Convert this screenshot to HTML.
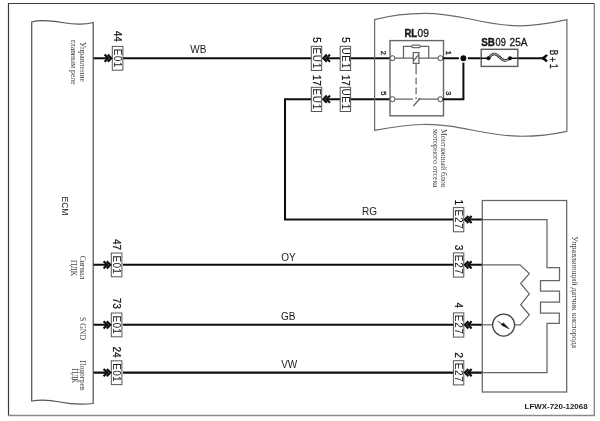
<!DOCTYPE html>
<html>
<head>
<meta charset="utf-8">
<style>
html,body{margin:0;padding:0;background:#fff;}
body{width:600px;height:421px;overflow:hidden;}
svg{display:block;will-change:transform;}
text{font-family:"Liberation Sans",sans-serif;fill:#1a1a1a;}
.ser{font-family:"Liberation Serif",serif;fill:#444;}
.num{fill:#111;stroke:#111;stroke-width:0.2;}
.sb{stroke:#1a1a1a;stroke-width:0.3;}
.w{stroke:#111;stroke-width:2.05;fill:none;stroke-linejoin:miter;}
.t{stroke:#666;stroke-width:1.25;fill:none;}
.bx{stroke:#555;stroke-width:1;fill:#fff;}
.ch{stroke:#111;stroke-width:2.1;fill:none;stroke-linejoin:miter;}
</style>
</head>
<body>
<svg width="600" height="421" viewBox="0 0 600 421">
<defs><filter id="bl" x="0" y="0" width="600" height="421" filterUnits="userSpaceOnUse"><feGaussianBlur stdDeviation="0.4"/></filter></defs>
<rect width="600" height="421" fill="#fff"/>
<g filter="url(#bl)">
<!-- outer frame -->
<path d="M8.5 415.5 V3.5 H594.5" stroke="#3a3a3a" stroke-width="1.2" fill="none"/>
<path d="M594.3 3.5 V415.5 H8.5" stroke="#8a8a8a" stroke-width="1.4" fill="none"/>

<!-- ECM box -->
<path class="t" style="stroke:#555" d="M31.7 401 V22 C40 19.5 50 20.5 62 22.5 C74 24.5 84 25 93.2 22.5 V403.5 C84 404.5 72 404.5 60 402 C50 400 40 399.5 31.7 401 Z"/>
<text transform="translate(61.5 206) rotate(90)" text-anchor="middle" font-size="8.5">ECM</text>

<!-- left labels -->
<g font-size="8">
<text class="ser" transform="translate(80.3 42.1) rotate(90)" textLength="39.9" lengthAdjust="spacingAndGlyphs">Управление</text>
<text class="ser" transform="translate(71 40) rotate(90)" textLength="44.8" lengthAdjust="spacingAndGlyphs">главным реле</text>
<text class="ser" transform="translate(80.2 255.7) rotate(90)" textLength="23.5" lengthAdjust="spacingAndGlyphs">Сигнал</text>
<text class="ser" transform="translate(71.3 260) rotate(90)" textLength="16" lengthAdjust="spacingAndGlyphs">ПДК</text>
<text class="ser" transform="translate(80.4 316.9) rotate(90)" textLength="23.2" lengthAdjust="spacingAndGlyphs">S GND</text>
<text class="ser" transform="translate(80.3 360.2) rotate(90)" textLength="30.4" lengthAdjust="spacingAndGlyphs">Подогрев</text>
<text class="ser" transform="translate(71.5 368.2) rotate(90)" textLength="15" lengthAdjust="spacingAndGlyphs">ПДК</text>
</g>

<!-- wires -->
<path class="w" d="M93.5 58.2 H108 M123 58.2 H311.5 M326 58.2 H340 M350.5 58.2 H390"/>
<path class="w" d="M326 99.2 H340 M350.5 99.2 H390"/>
<path class="w" d="M311.5 99.2 H285 V219.5 H453.5 M469 219.5 H482.5"/>
<path class="w" d="M93.5 264.8 H108 M123 264.8 H453.5 M469 264.8 H482.5"/>
<path class="w" d="M93.5 324.8 H108 M123 324.8 H453.5 M469 324.8 H482.5"/>
<path class="w" d="M93.5 372.6 H108 M123 372.6 H453.5 M469 372.6 H482.5"/>

<!-- wire labels -->
<g font-size="10">
<text x="198.3" y="53" text-anchor="middle">WB</text>
<text x="369.5" y="214.7" text-anchor="middle">RG</text>
<text x="288.5" y="260.8" text-anchor="middle">OY</text>
<text x="288.3" y="319.6" text-anchor="middle">GB</text>
<text x="289.2" y="367.8" text-anchor="middle">VW</text>
</g>

<g transform="translate(0 58.2)">
<rect class="bx" x="112.3" y="-11.8" width="10.6" height="23.8"/>
<text transform="translate(113.9 0) rotate(90)" text-anchor="middle" font-size="10" letter-spacing="0.3">E01</text>
<text transform="translate(113.9 -21.9) rotate(90)" text-anchor="middle" font-size="10" class="num">44</text>
<path class="ch" d="M104.6 -3.6 L108.1 0 L104.6 3.6 M107.8 -3.6 L111.3 0 L107.8 3.6"/>
</g>
<g transform="translate(-1.0 264.8)">
<rect class="bx" x="112.3" y="-11.8" width="10.6" height="23.8"/>
<text transform="translate(113.9 0) rotate(90)" text-anchor="middle" font-size="10" letter-spacing="0.3">E01</text>
<text transform="translate(113.9 -20.3) rotate(90)" text-anchor="middle" font-size="10" class="num">47</text>
<path class="ch" d="M104.6 -3.6 L108.1 0 L104.6 3.6 M107.8 -3.6 L111.3 0 L107.8 3.6"/>
</g>
<g transform="translate(-1.0 324.8)">
<rect class="bx" x="112.3" y="-11.8" width="10.6" height="23.8"/>
<text transform="translate(113.9 0) rotate(90)" text-anchor="middle" font-size="10" letter-spacing="0.3">E01</text>
<text transform="translate(113.9 -21.5) rotate(90)" text-anchor="middle" font-size="10" class="num">73</text>
<path class="ch" d="M104.6 -3.6 L108.1 0 L104.6 3.6 M107.8 -3.6 L111.3 0 L107.8 3.6"/>
</g>
<g transform="translate(-1.0 372.6)">
<rect class="bx" x="112.3" y="-11.8" width="10.6" height="23.8"/>
<text transform="translate(113.9 0) rotate(90)" text-anchor="middle" font-size="10" letter-spacing="0.3">E01</text>
<text transform="translate(113.9 -20.5) rotate(90)" text-anchor="middle" font-size="10" class="num">24</text>
<path class="ch" d="M104.6 -3.6 L108.1 0 L104.6 3.6 M107.8 -3.6 L111.3 0 L107.8 3.6"/>
</g>
<g transform="translate(0 58.2)">
<rect class="bx" x="311.3" y="-11.9" width="10.4" height="24.2"/>
<text transform="translate(312.90000000000003 0) rotate(90)" text-anchor="middle" font-size="10" letter-spacing="0.7">EU1</text>
<text transform="translate(312.90000000000003 -18.2) rotate(90)" text-anchor="middle" font-size="10" class="num">5</text>
</g>
<g transform="translate(0 58.2)">
<rect class="bx" x="340.2" y="-11.9" width="10.4" height="24.2"/>
<text transform="translate(341.8 0) rotate(90)" text-anchor="middle" font-size="10" letter-spacing="0.7">UE1</text>
<text transform="translate(341.8 -18.2) rotate(90)" text-anchor="middle" font-size="10" class="num">5</text>
</g>
<g transform="translate(0 99.2)">
<rect class="bx" x="311.3" y="-11.9" width="10.4" height="24.2"/>
<text transform="translate(312.90000000000003 0) rotate(90)" text-anchor="middle" font-size="10" letter-spacing="0.7">EU1</text>
<text transform="translate(312.90000000000003 -19) rotate(90)" text-anchor="middle" font-size="10" class="num">17</text>
</g>
<g transform="translate(0 99.2)">
<rect class="bx" x="340.2" y="-11.9" width="10.4" height="24.2"/>
<text transform="translate(341.8 0) rotate(90)" text-anchor="middle" font-size="10" letter-spacing="0.7">UE1</text>
<text transform="translate(341.8 -19) rotate(90)" text-anchor="middle" font-size="10" class="num">17</text>
</g>
<path class="ch" transform="translate(322.6 58.2)" d="M4.2 -3.6 L0.7 0 L4.2 3.6 M7.4 -3.6 L3.9 0 L7.4 3.6"/>
<path class="ch" transform="translate(322.6 99.2)" d="M4.2 -3.6 L0.7 0 L4.2 3.6 M7.4 -3.6 L3.9 0 L7.4 3.6"/>
<g transform="translate(0 219.5)">
<rect class="bx" x="453.4" y="-11.9" width="10.4" height="24.2"/>
<text transform="translate(455.0 0) rotate(90)" text-anchor="middle" font-size="10" letter-spacing="0.7">E27</text>
<text transform="translate(455.0 -17.3) rotate(90)" text-anchor="middle" font-size="10" class="num">1</text>
</g>
<path class="ch" transform="translate(464.2 219.5)" d="M4.2 -3.6 L0.7 0 L4.2 3.6 M7.4 -3.6 L3.9 0 L7.4 3.6"/>
<g transform="translate(0 264.8)">
<rect class="bx" x="453.4" y="-11.9" width="10.4" height="24.2"/>
<text transform="translate(455.0 0) rotate(90)" text-anchor="middle" font-size="10" letter-spacing="0.7">E27</text>
<text transform="translate(455.0 -17.3) rotate(90)" text-anchor="middle" font-size="10" class="num">3</text>
</g>
<path class="ch" transform="translate(464.2 264.8)" d="M4.2 -3.6 L0.7 0 L4.2 3.6 M7.4 -3.6 L3.9 0 L7.4 3.6"/>
<g transform="translate(0 324.8)">
<rect class="bx" x="453.4" y="-11.9" width="10.4" height="24.2"/>
<text transform="translate(455.0 0) rotate(90)" text-anchor="middle" font-size="10" letter-spacing="0.7">E27</text>
<text transform="translate(455.0 -19.4) rotate(90)" text-anchor="middle" font-size="10" class="num">4</text>
</g>
<path class="ch" transform="translate(464.2 324.8)" d="M4.2 -3.6 L0.7 0 L4.2 3.6 M7.4 -3.6 L3.9 0 L7.4 3.6"/>
<g transform="translate(0 372.6)">
<rect class="bx" x="453.4" y="-11.9" width="10.4" height="24.2"/>
<text transform="translate(455.0 0) rotate(90)" text-anchor="middle" font-size="10" letter-spacing="0.7">E27</text>
<text transform="translate(455.0 -17.5) rotate(90)" text-anchor="middle" font-size="10" class="num">2</text>
</g>
<path class="ch" transform="translate(464.2 372.6)" d="M4.2 -3.6 L0.7 0 L4.2 3.6 M7.4 -3.6 L3.9 0 L7.4 3.6"/>
<!-- relay block -->
<path class="t" style="stroke:#6a6a6a;stroke-width:1.2" d="M374.6 130.3 V19.7 C390 15.5 408 13.3 425 13.3 C442 13.3 456 16 470 19 C488 23 503 25.8 520 25.8 C537 25.8 552 23 566.9 19.7 V131.3 C550 135 535 136.5 518 136.2 C495 136 470 129 450 126.2 C440 124.8 430 124.3 422 124.5 C405 125 390 127.5 374.6 130.3 Z"/>
<rect class="t" x="390" y="40.6" width="53.5" height="75.2" style="stroke-width:1.4"/>
<text x="404.4" y="36.9" font-size="10" font-weight="bold" textLength="12.8" lengthAdjust="spacingAndGlyphs" style="stroke:#1a1a1a;stroke-width:0.4">RL</text><text x="417.6" y="36.9" font-size="10" class="sb" textLength="11.3" lengthAdjust="spacingAndGlyphs">09</text>
<!-- coil -->
<path class="t" d="M395 58.2 H438 M403.5 58.2 V46.4 H428.7 V58.2"/>
<rect class="t" x="411.8" y="45.1" width="8.4" height="2.6" rx="1.3" style="fill:#fff"/>
<rect class="t" x="413.3" y="52.6" width="5.6" height="10.8" style="fill:#fff"/>
<path class="t" d="M418.9 54.5 L413.3 61"/>
<path class="t" d="M416.1 63.4 V74.2 M416.1 77.5 V84.2 M416.1 87.5 V94.2 M416.1 97.3 V99.2"/>
<!-- switch -->
<path class="t" d="M395 99.2 H413 M418 99.2 H438 M420.5 98 L413.3 106"/>
<!-- pins -->
<g fill="#fff" stroke="#444" stroke-width="1">
<circle cx="392.5" cy="58.2" r="2.5"/><circle cx="440.4" cy="58.2" r="2.5"/>
<circle cx="392.5" cy="99.2" r="2.5"/><circle cx="440.4" cy="99.2" r="2.5"/>
</g>
<g font-size="7.4" class="sb">
<text transform="translate(381.4 52.8) rotate(90)" text-anchor="middle">2</text>
<text transform="translate(445.6 52.8) rotate(90)" text-anchor="middle">1</text>
<text transform="translate(381.4 93.3) rotate(90)" text-anchor="middle">5</text>
<text transform="translate(445.6 93.3) rotate(90)" text-anchor="middle">3</text>
</g>
<!-- right wires -->
<path class="w" d="M443 58.2 H480.8 M517.5 58.2 H544"/>
<path class="w" d="M463.4 58.2 V99.2 H443"/>
<circle cx="463.4" cy="58.2" r="3.8" fill="#111" stroke="#fff" stroke-width="1.6"/>
<!-- fuse -->
<rect class="t" x="481.2" y="49.3" width="36.6" height="17.1" style="stroke-width:1.4;stroke:#5a5a5a"/>
<path class="w" style="stroke-width:1.6" d="M481 58.2 H488.7 M510 58.2 H517.5"/>
<path d="M489.3 57.6 C492 53 495.5 52.6 499.6 57.2 C503 61 506 61.8 509.6 58.4" stroke="#222" stroke-width="2.5" fill="none"/>
<path d="M489.3 57.6 C492 53 495.5 52.6 499.6 57.2 C503 61 506 61.8 509.6 58.4" stroke="#fff" stroke-width="0.8" fill="none"/>
<circle cx="488.4" cy="58.2" r="2" fill="#111"/><circle cx="510" cy="58.2" r="2" fill="#111"/>
<text x="481.3" y="45.8" font-size="10" font-weight="bold" textLength="13.7" lengthAdjust="spacingAndGlyphs" style="stroke:#1a1a1a;stroke-width:0.4">SB</text><text x="495.6" y="45.8" font-size="10" class="sb" textLength="10.2" lengthAdjust="spacingAndGlyphs">09</text><text x="509.6" y="45.8" font-size="10" class="sb" textLength="17.8" lengthAdjust="spacingAndGlyphs">25A</text>
<!-- B+ connector -->
<path class="ch" style="stroke-width:2.5" d="M546.9 54.9 Q545 57.6 542.4 58.2 Q545 58.8 546.9 61.5"/>
<g font-size="11" class="sb">
<text transform="translate(550.1 49.8) rotate(90) scale(0.74 1)">B</text>
<text transform="translate(549.4 56.7) rotate(90) scale(0.95 1)" font-size="10">+</text>
<text transform="translate(550.1 63.9) rotate(90) scale(0.74 1)">1</text>
</g>
<g font-size="8">
<text class="ser" transform="translate(441 128.9) rotate(90)" textLength="58.7" lengthAdjust="spacingAndGlyphs">Монтажный блок</text>
<text class="ser" transform="translate(432.9 128.9) rotate(90)" textLength="58.7" lengthAdjust="spacingAndGlyphs">моторного отсека</text>
</g>

<!-- sensor -->
<rect class="t" x="482.3" y="200.5" width="84.4" height="191.5"/>
<path class="t" d="M482.3 219.5 H547 V267.6 H559.5 V280.5 H540.5 V291 H559.5 V302 H540.5 V313 H559.3 V323.3 H547 V372.6 H482.3"/>
<path class="t" d="M482.3 264.8 H520 L529.3 273.6 L520.7 283.5 L529.3 293.9 L520.7 304.7 L529.3 314.8 L520.3 324.8 H514.6"/>
<path class="t" d="M482.3 324.8 H492.6"/>
<circle class="t" cx="503.6" cy="325" r="11" fill="#fff" style="stroke:#444"/>
<path d="M497.8 321.2 L503 324.8" stroke="#333" stroke-width="0.9" fill="none"/>
<path d="M501.3 325 L503.3 322.7 L509.3 329 Z" fill="#111" stroke="#111" stroke-width="0.5"/>
<text class="ser" transform="translate(571.5 236.2) rotate(90)" font-size="8" textLength="112" lengthAdjust="spacingAndGlyphs">Управляющий датчик кислорода</text>
<text x="524.6" y="408.7" font-size="7.6" font-weight="bold" textLength="63" lengthAdjust="spacingAndGlyphs">LFWX-720-12068</text>

</g>
</svg>
</body>
</html>
